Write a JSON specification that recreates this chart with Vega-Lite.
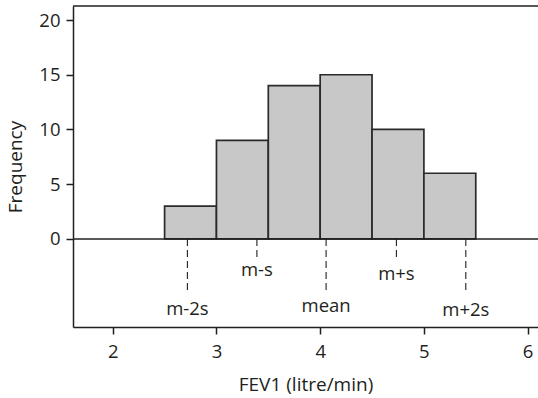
{
  "$schema": "https://vega.github.io/schema/vega-lite/v6.json",
  "width": 465,
  "height": 321,
  "autosize": {"type": "none"},
  "padding": {"left": 73, "top": 6, "right": 0, "bottom": 71},
  "background": "white",
  "config": {
    "view": {"stroke": null},
    "font": "Open Sans",
    "axis": {
      "domainColor": "#231f20",
      "tickColor": "#231f20",
      "labelColor": "#231f20",
      "titleColor": "#231f20",
      "labelFont": "Open Sans",
      "titleFont": "Open Sans",
      "labelFontSize": 18.5,
      "titleFontSize": 19,
      "titleFontWeight": "normal",
      "grid": false,
      "tickSize": 7,
      "domainWidth": 1.5,
      "tickWidth": 1.5
    }
  },
  "datasets": {
    "bins": [
      {"start": 2.5, "end": 3.0, "freq": 3, "base": 0},
      {"start": 3.0, "end": 3.5, "freq": 9, "base": 0},
      {"start": 3.5, "end": 4.0, "freq": 14, "base": 0},
      {"start": 4.0, "end": 4.5, "freq": 15, "base": 0},
      {"start": 4.5, "end": 5.0, "freq": 10, "base": 0},
      {"start": 5.0, "end": 5.5, "freq": 6, "base": 0}
    ],
    "hlines": [
      {"yv": 0},
      {"yv": 21.28}
    ],
    "marks": [
      {"label": "m-2s", "x": 2.72, "base": 0, "dashEnd": -4.94, "labelY": -6.98},
      {"label": "m-s", "x": 3.39, "base": 0, "dashEnd": -1.86, "labelY": -3.36},
      {"label": "mean", "x": 4.057, "base": 0, "dashEnd": -4.94, "labelY": -6.70},
      {"label": "m+s", "x": 4.735, "base": 0, "dashEnd": -1.86, "labelY": -3.72},
      {"label": "m+2s", "x": 5.404, "base": 0, "dashEnd": -4.94, "labelY": -7.07}
    ]
  },
  "layer": [
    {
      "data": {"name": "bins"},
      "mark": {"type": "rect", "fill": "#c8c8c8", "stroke": "#2a2a2a", "strokeWidth": 1.7},
      "encoding": {
        "x": {
          "field": "start", "type": "quantitative",
          "scale": {"domain": [1.617, 6.1], "nice": false, "zero": false},
          "axis": {"values": [2, 3, 4, 5, 6], "format": "d", "title": "FEV1 (litre/min)", "labelPadding": 8, "titlePadding": 15}
        },
        "x2": {"field": "end"},
        "y": {
          "field": "freq", "type": "quantitative",
          "scale": {"domain": [-8.05, 21.28], "nice": false, "zero": false},
          "axis": {"values": [0, 5, 10, 15, 20], "format": "d", "title": "Frequency", "labelPadding": 6, "titlePadding": 13}
        },
        "y2": {"field": "base"}
      }
    },
    {
      "data": {"name": "hlines"},
      "mark": {"type": "rule", "color": "#231f20", "strokeWidth": 1.5},
      "encoding": {
        "y": {"field": "yv", "type": "quantitative"}
      }
    },
    {
      "data": {"name": "marks"},
      "mark": {"type": "rule", "color": "#231f20", "strokeWidth": 1.1, "strokeDash": [7, 4]},
      "encoding": {
        "x": {"field": "x", "type": "quantitative"},
        "y": {"field": "base", "type": "quantitative"},
        "y2": {"field": "dashEnd"}
      }
    },
    {
      "data": {"name": "marks"},
      "mark": {"type": "text", "color": "#231f20", "fontSize": 18.5, "baseline": "alphabetic", "align": "center", "font": "Open Sans"},
      "encoding": {
        "x": {"field": "x", "type": "quantitative"},
        "y": {"field": "labelY", "type": "quantitative"},
        "text": {"field": "label"}
      }
    }
  ]
}
